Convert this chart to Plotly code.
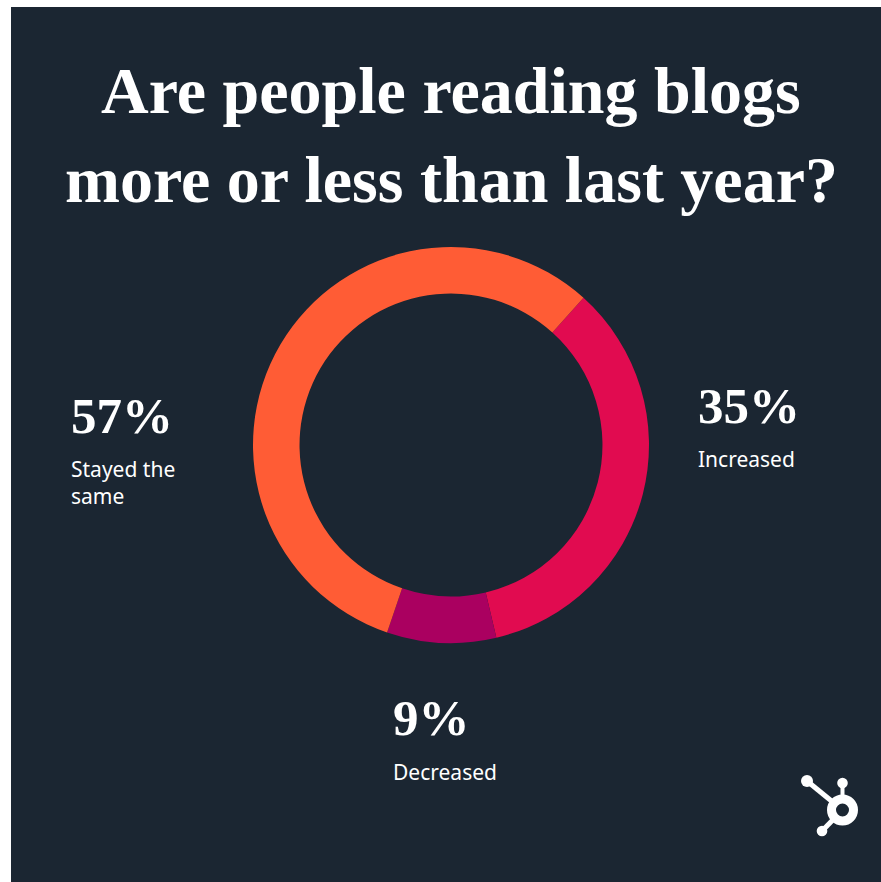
import plotly.graph_objects as go

# ---- data ----
categories = ["Increased", "Decreased", "Stayed the same"]
values = [35, 9, 57]
pct_labels = ["35%", "9%", "57%"]
colors = ["#E10B50", "#AA0060", "#FF5C35"]

title_lines = ["Are people reading blogs", "more or less than last year?"]

W, H = 881, 882
BG = "#1B2632"

fig = go.Figure()

# donut: centre (451,445) px, radius 198 px
cx, cy, R = 451, 445, 198
fig.add_trace(go.Pie(
    labels=categories, values=values, sort=False, direction="clockwise",
    rotation=42, hole=0.765, textinfo="none", hoverinfo="label+percent",
    marker=dict(colors=colors, line=dict(width=0)), showlegend=False,
    domain=dict(x=[(cx - R) / W, (cx + R) / W], y=[(H - cy - R) / H, (H - cy + R) / H]),
))

shapes = [
    dict(type="rect", xref="x", yref="y", x0=11, x1=W, y0=7, y1=H,
         fillcolor=BG, line=dict(width=0), layer="below"),
]

# HubSpot sprocket logo (decorative)
WHITE = "white"
shapes += [
    dict(type="line", xref="x", yref="y", x0=842.5, y0=783, x1=842.5, y1=805, line=dict(color=WHITE, width=4)),
    dict(type="line", xref="x", yref="y", x0=807, y0=781, x1=842.5, y1=810, line=dict(color=WHITE, width=5)),
    dict(type="line", xref="x", yref="y", x0=822, y0=831, x1=842.5, y1=810, line=dict(color=WHITE, width=5)),
    dict(type="circle", xref="x", yref="y", x0=842.5 - 11, x1=842.5 + 11, y0=810 - 11, y1=810 + 11,
         fillcolor=BG, line=dict(color=WHITE, width=9)),
    dict(type="circle", xref="x", yref="y", x0=842.5 - 5.3, x1=842.5 + 5.3, y0=783 - 5.3, y1=783 + 5.3,
         fillcolor=WHITE, line=dict(width=0)),
    dict(type="circle", xref="x", yref="y", x0=807 - 6, x1=807 + 6, y0=781 - 6, y1=781 + 6,
         fillcolor=WHITE, line=dict(width=0)),
    dict(type="circle", xref="x", yref="y", x0=822 - 5.3, x1=822 + 5.3, y0=831 - 5.3, y1=831 + 5.3,
         fillcolor=WHITE, line=dict(width=0)),
]

SERIF = "Liberation Serif"
SANS = "Noto Sans"
ann = []
# title
ann.append(dict(text="<b>%s</b>" % title_lines[0], x=451, y=90, xanchor="center", yanchor="middle",
                font=dict(family=SERIF, size=66, color=WHITE)))
ann.append(dict(text="<b>%s</b>" % title_lines[1], x=451, y=179, xanchor="center", yanchor="middle",
                font=dict(family=SERIF, size=66, color=WHITE)))

# labels: (x, pct center y, name text, name top y)
label_pos = {
    "Stayed the same": (69, 416, "Stayed the<br>same", 453),
    "Increased": (696, 406, "Increased", 443),
    "Decreased": (391, 718, "Decreased", 756),
}
for cat, pct in zip(categories, pct_labels):
    x, py, names, ny = label_pos[cat]
    ann.append(dict(text="<b>%s</b>" % pct, x=x, y=py, xanchor="left", yanchor="middle",
                    font=dict(family=SERIF, size=51, color=WHITE)))
    ann.append(dict(text=names, x=x, y=ny, xanchor="left", yanchor="top", align="left",
                    font=dict(family=SANS, size=21, color=WHITE)))

for a in ann:
    a.update(xref="x", yref="y", showarrow=False)

fig.update_layout(
    width=W, height=H, margin=dict(l=0, r=0, t=0, b=0),
    paper_bgcolor="white", plot_bgcolor="rgba(0,0,0,0)",
    xaxis=dict(range=[0, W], visible=False, fixedrange=True),
    yaxis=dict(range=[H, 0], visible=False, fixedrange=True),
    shapes=shapes, annotations=ann,
)

fig.write_html("out.html")
